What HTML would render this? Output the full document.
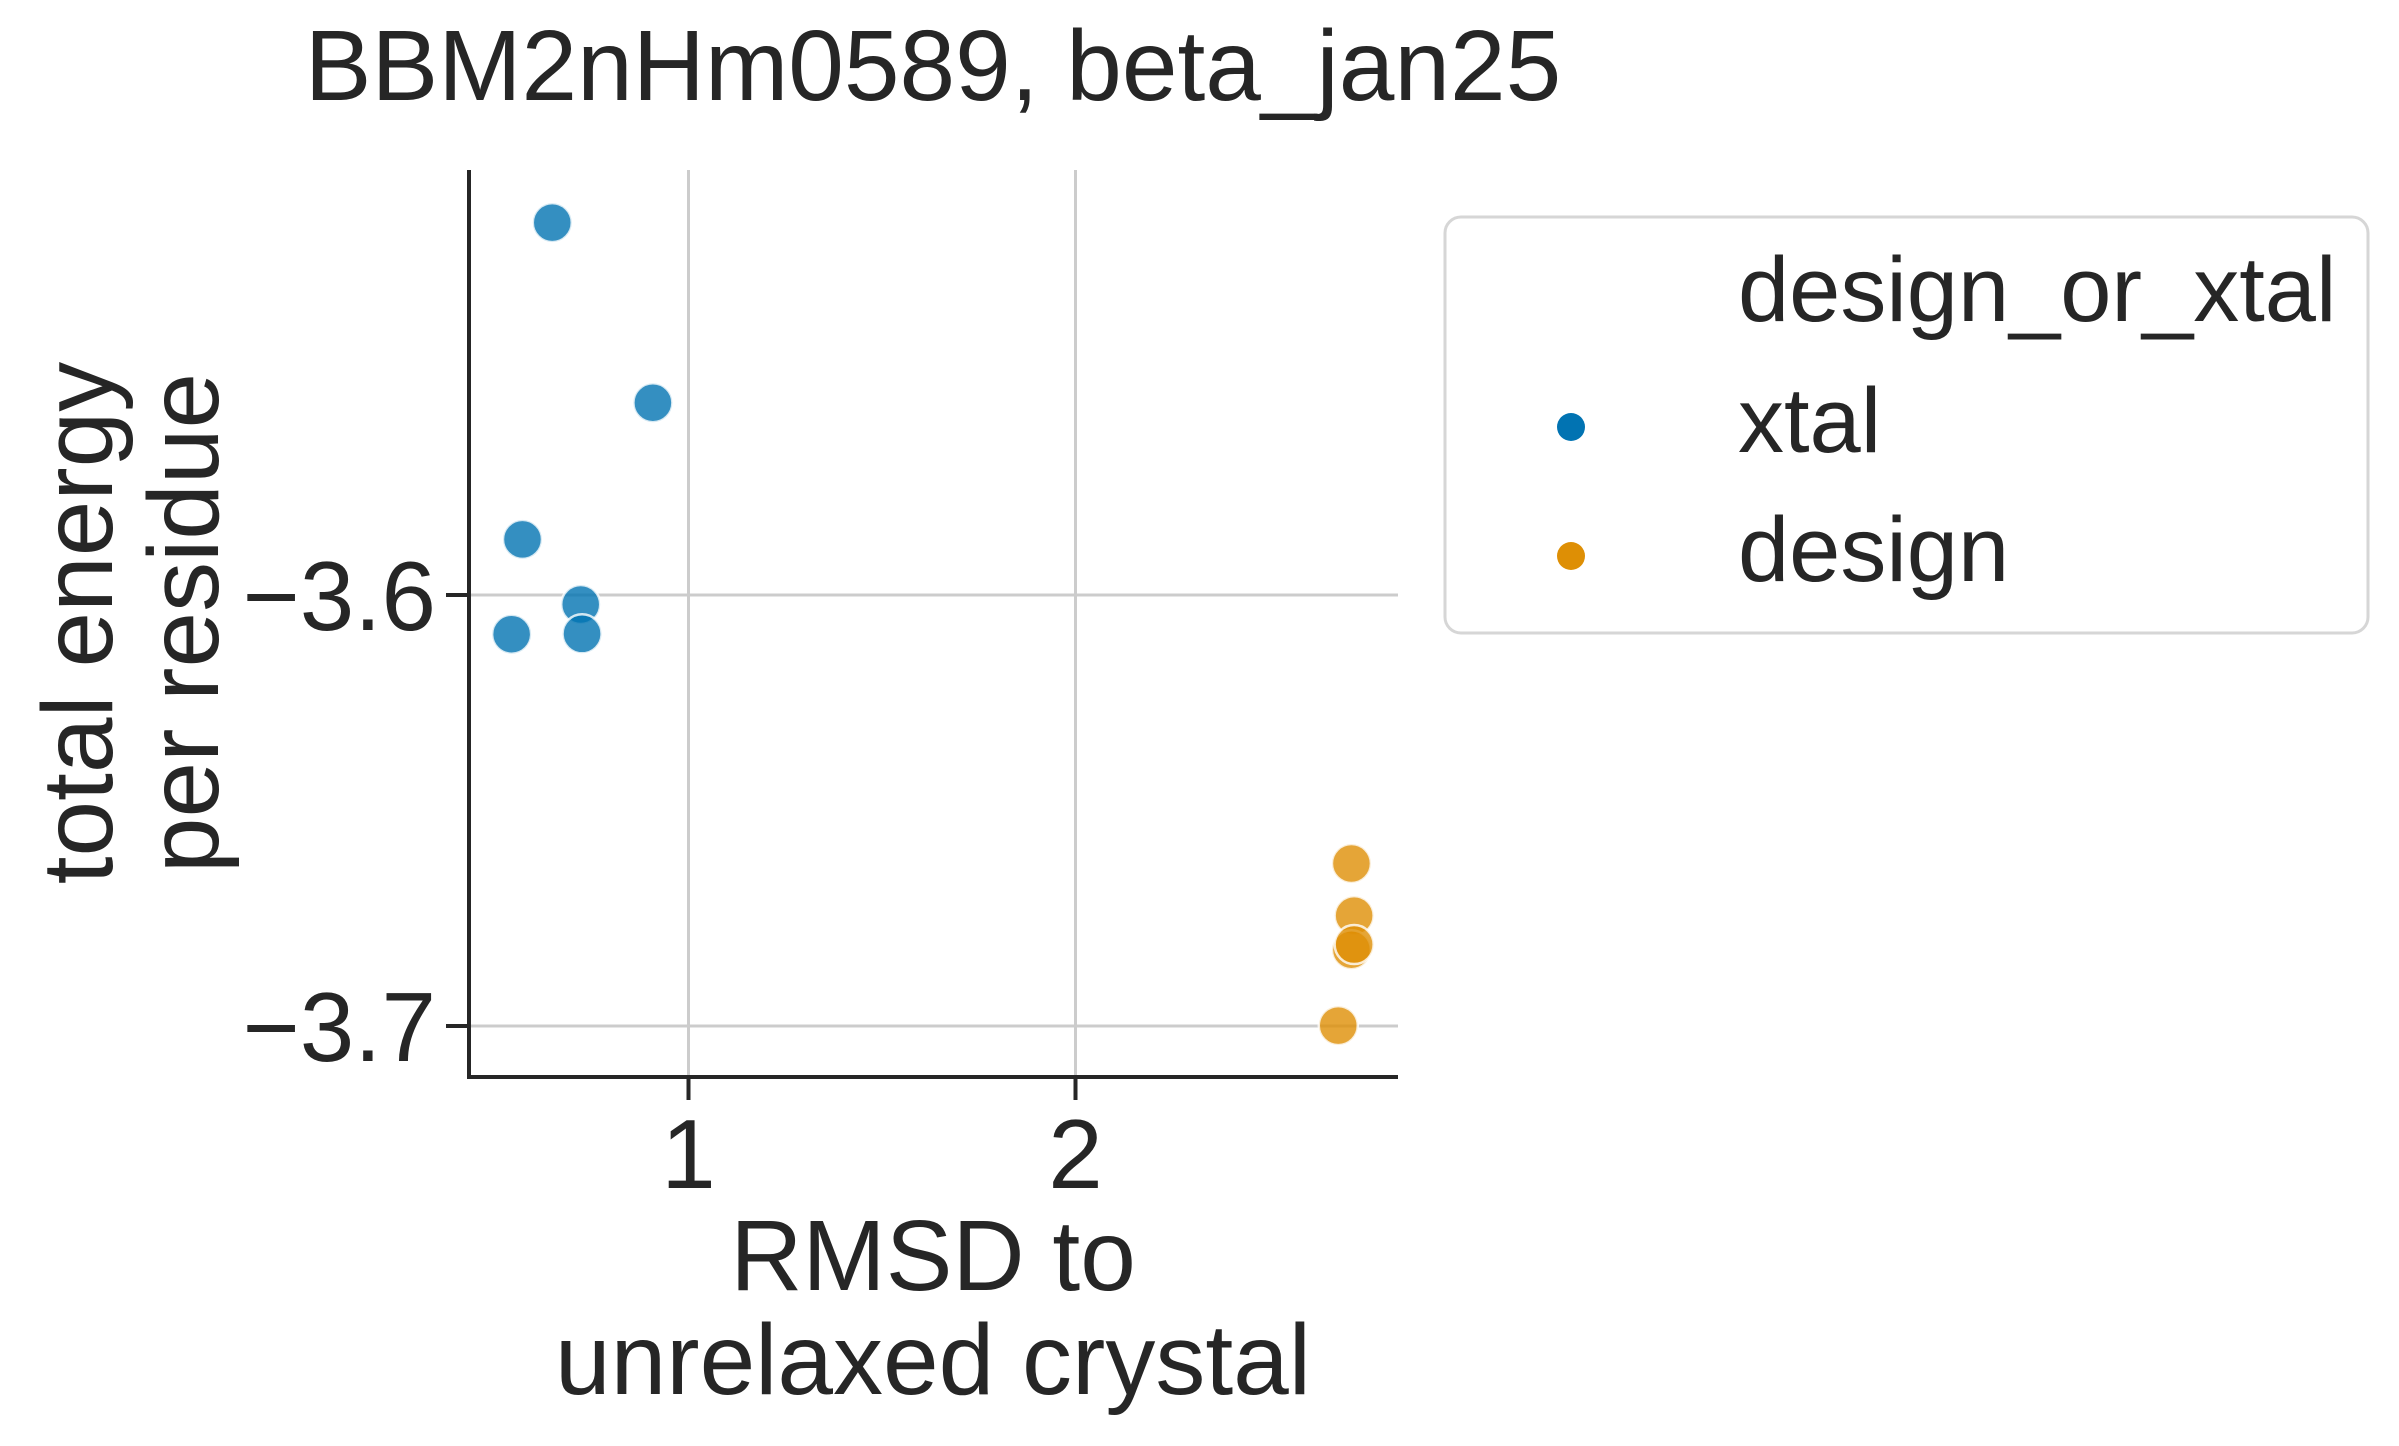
<!DOCTYPE html>
<html><head><meta charset="utf-8"><style>
html,body{margin:0;padding:0;background:#fff}
svg{display:block}
text{font-family:"Liberation Sans",Arial,sans-serif;fill:#262626}
</style></head><body>
<svg id="chart" width="2399" height="1446" viewBox="0 0 2399 1446" xmlns="http://www.w3.org/2000/svg">
<text x="933" y="100" font-size="100" text-anchor="middle">BBM2nHm0589, beta_jan25</text>
<g id="grid"></g>
<g id="points"></g>
<g id="axes"></g>
<text x="933" y="1290" font-size="100" text-anchor="middle">RMSD to</text>
<text x="933" y="1394" font-size="100" text-anchor="middle">unrelaxed crystal</text>
<g transform="translate(112,623) rotate(-90)">
<text x="0" y="0" font-size="100" text-anchor="middle">total energy</text>
<text x="0" y="106" font-size="100" text-anchor="middle">per residue</text>
</g>
<g>
<rect x="1445" y="217" width="923" height="416" rx="16" fill="#fff" stroke="#d6d6d6" stroke-width="3"/>
<text x="1738" y="321" font-size="92">design_or_xtal</text>
<circle cx="1571" cy="427" r="14" fill="#0173b2"/>
<text x="1738" y="452" font-size="92">xtal</text>
<circle cx="1571" cy="556" r="14" fill="#de8f05"/>
<text x="1738" y="581" font-size="92">design</text>
</g>
</svg>
<script>
const xtalX=[0.648,0.908,0.571,0.7215,0.543,0.725];
const xtalY=[-3.5136,-3.5554,-3.5871,-3.6022,-3.6091,-3.6090];
const designX=[2.713,2.720,2.713,2.720,2.679];
const designY=[-3.6623,-3.6744,-3.6823,-3.6811,-3.6999];
const xTicks=[1,2];
const yTicks=[-3.6,-3.7];
const xTickLabels=["1","2"];
const yTickLabels=["\u22123.6","\u22123.7"];

const L=469,R=1398,T=170,B=1077;
function sx(v){return 688.5+(v-1)*387;}
function sy(v){return 595+(-3.6-v)*4310;}
const NS="http://www.w3.org/2000/svg";
function mk(tag,attrs,parent){const e=document.createElementNS(NS,tag);for(const k in attrs)e.setAttribute(k,attrs[k]);parent.appendChild(e);return e;}
const grid=document.getElementById('grid'),axes=document.getElementById('axes'),pts=document.getElementById('points');
xTicks.forEach((t,i)=>{
  const g=mk('line',{x1:sx(t),x2:sx(t),y1:T,y2:B,stroke:'#cccccc','stroke-width':3},grid);
  
  
  const tk=mk('line',{x1:sx(t),x2:sx(t),y1:B,y2:B+23,stroke:'#262626','stroke-width':4},axes);
  
  
  const lb=mk('text',{x:sx(t),y:1188,'font-size':98,'text-anchor':'middle'},axes);
  lb.textContent=xTickLabels[i];
  
  
});
yTicks.forEach((t,i)=>{
  const g=mk('line',{x1:L,x2:R,y1:sy(t),y2:sy(t),stroke:'#cccccc','stroke-width':3},grid);
  
  
  const tk=mk('line',{x1:L-23,x2:L,y1:sy(t),y2:sy(t),stroke:'#262626','stroke-width':4},axes);
  
  
  const lb=mk('text',{x:436,y:sy(t)+35,'font-size':98,'text-anchor':'end'},axes);
  lb.textContent=yTickLabels[i];
  
  
});
const ya=mk('line',{x1:L,x2:L,y1:T,y2:B+2,stroke:'#262626','stroke-width':4},axes);


const xa=mk('line',{x1:L-2,x2:R,y1:B,y2:B,stroke:'#262626','stroke-width':4},axes);


function drawSeries(xs,ys,color,name){
  xs.forEach((x,i)=>{
    const c=mk('circle',{cx:sx(x),cy:sy(ys[i]),r:19.5,fill:color,'fill-opacity':0.8,stroke:'#ffffff','stroke-opacity':0.8,'stroke-width':2.5},pts);
    
    
  });
}
drawSeries(xtalX,xtalY,'#0173b2','point-xtal');
drawSeries(designX,designY,'#de8f05','point-design');
</script>
</body></html>
